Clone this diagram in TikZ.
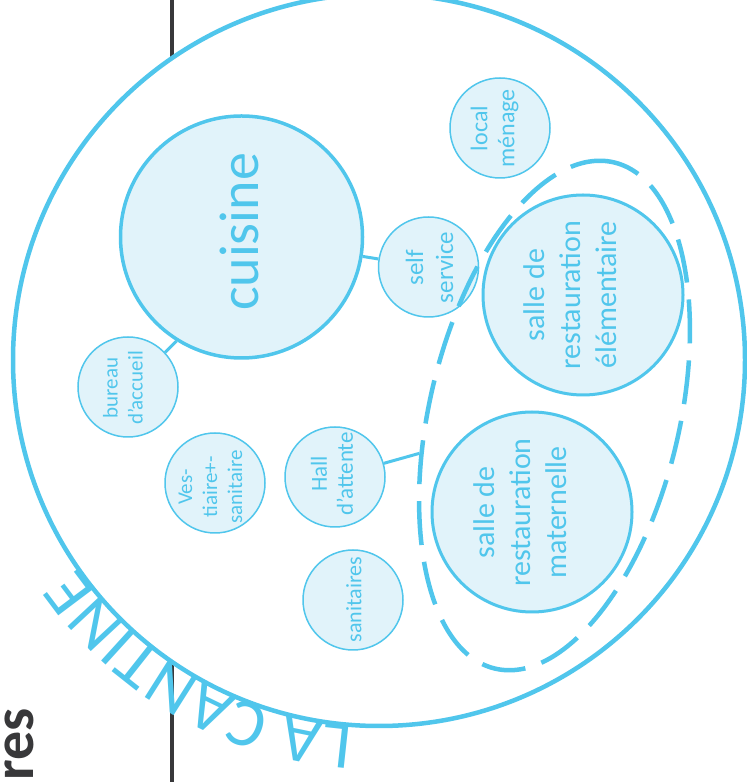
\documentclass[tikz,border=0pt]{standalone}
\usepackage{fontspec}
\setmainfont{Carlito}
\usetikzlibrary{shapes.geometric,decorations.text}
\definecolor{cy}{RGB}{80,198,236}
\definecolor{cyfill}{RGB}{225,243,250}
\definecolor{dk}{RGB}{56,56,58}
\begin{document}
\begin{tikzpicture}[x=1pt,y=1pt,
  room/.style={circle, draw=cy, fill=cyfill, inner sep=0pt, line width=1.5pt, minimum size=100pt},
  bigroom/.style={room, line width=3pt, minimum size=200pt},
  lbl/.style={text=cy, align=center, rotate=90, inner sep=0pt},
  link/.style={draw=cy, line width=3pt},
]
\useasboundingbox (0,0) rectangle (747,782);
% black vertical line
\coordinate (lt) at (171.5,782);
\coordinate (lb) at (171.5,0);
\draw[dk, line width=4pt] (lt) -- (lb);
% big circle
\node[circle, draw=cy, fill=white, line width=4.5pt, minimum size=732pt, inner sep=0pt] (cantine) at (379,422) {};
\path[decorate, decoration={text along path, text color=cy,
   text={|\fontsize{68}{68}\selectfont|LA CANTINE}}]
   ([shift={(266:366pt)}]cantine.center) arc[start angle=266, end angle=198, radius=366pt];
% rooms
\node[room, line width=3.5pt, minimum size=242pt] (cuisine) at (241.5,545) {};
\node[room] (self) at (428.5,515) {};
\node[room] (local) at (500,654) {};
\node[bigroom] (elem) at (583,487) {};
\node[bigroom] (mat) at (532,270) {};
\node[room] (hall) at (335,305) {};
\node[room] (sanit) at (353,182) {};
\node[room] (bureau) at (128,395) {};
\node[room] (vest) at (215,299) {};
% dashed zone
\node[ellipse, draw=cy, line width=4.5pt, dash pattern=on 44pt off 17pt,
      minimum width=520pt, minimum height=250pt, inner sep=0pt, rotate=76.8] (zone) at (554.5,366.5) {};
% connectors
\draw[link] (cuisine) -- (self);
\draw[link] (cuisine.238) -- (bureau.43);
\draw[link] (hall) -- (zone);
% labels
\node[lbl, font=\fontsize{56}{60}\selectfont] (cuisine-t) at (239,550) {cuisine};
\node[lbl, font=\fontsize{25}{30}\selectfont] (self-t) at (429.5,514.5) {self\\service};
\node[lbl, font=\fontsize{24}{27}\selectfont] (local-t) at (494.5,653.5) {local\\ménage};
\node[lbl, font=\fontsize{30}{36}\selectfont] (elem-t) at (570,487) {salle de\\restauration\\élémentaire};
\node[lbl, font=\fontsize{30}{36}\selectfont] (mat-t) at (520,269.5) {salle de\\restauration\\maternelle};
\node[lbl, font=\fontsize{23}{26}\selectfont] (hall-t) at (332,308) {Hall\\d’attente};
\node[lbl, font=\fontsize{22}{26}\selectfont] (sanit-t) at (354,182.5) {sanitaires};
\node[lbl, font=\fontsize{21}{25}\selectfont] (bureau-t) at (123,394) {bureau\\d’accueil};
\node[lbl, font=\fontsize{21}{25}\selectfont] (vest-t) at (210.5,295) {Ves-\\tiaire+-\\sanitaire};
% side text
\node[text=dk, font=\fontsize{58}{58}\selectfont\bfseries, rotate=90, anchor=base west, inner sep=0pt] (res) at (33,1) {res};
\end{tikzpicture}
\end{document}
